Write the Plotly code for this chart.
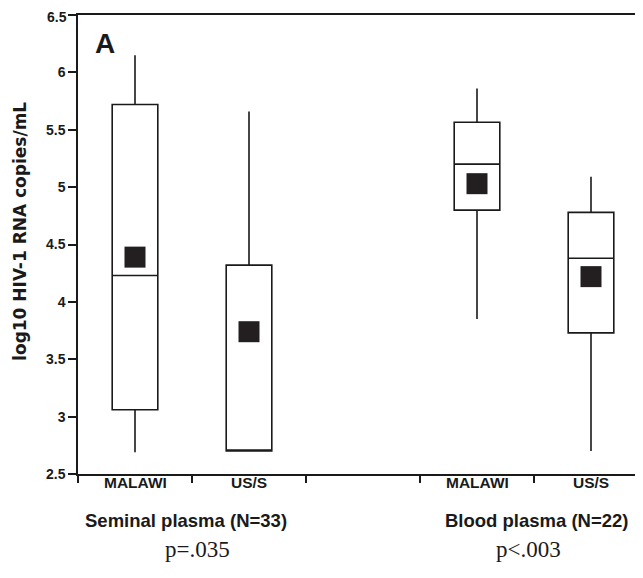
import plotly.graph_objects as go

groups = ["Seminal plasma (N=33)", "Blood plasma (N=22)"]
p_values = ["p=.035", "p<.003"]
categories = ["MALAWI", "US/S", "MALAWI", "US/S"]
positions = [0.5, 1.5, 3.5, 4.5]
group_centers = [0.95, 4.03]
p_centers = [1.05, 3.95]

whisker_low = [2.69, 2.70, 3.85, 2.70]
q1 = [3.06, 2.70, 4.80, 3.73]
median = [4.23, 2.70, 5.20, 4.38]
q3 = [5.72, 4.32, 5.565, 4.78]
whisker_high = [6.15, 5.66, 5.86, 5.09]
means = [4.39, 3.74, 5.03, 4.22]

y_ticks = [2.5, 3, 3.5, 4, 4.5, 5, 5.5, 6, 6.5]
y_tick_labels = ["2.5", "3", "3.5", "4", "4.5", "5", "5.5", "6", "6.5"]
y_title = "log10 HIV-1 RNA copies/mL"

# page has an 8px body margin; compensate so plot sits at page (78, 15)
W, H = 643, 578
ML, MT, MR = 70, 7, 8
plot_h = 459
MB = H - MT - plot_h
unit_px = 114.0
x_max = (W - ML - MR) / unit_px

fig = go.Figure()
for i in range(len(positions)):
    fig.add_trace(go.Box(
        x=[positions[i]], q1=[q1[i]], median=[median[i]], q3=[q3[i]],
        lowerfence=[whisker_low[i]], upperfence=[whisker_high[i]],
        width=0.4, whiskerwidth=0,
        fillcolor="white", line=dict(color="#1a1a1a", width=1.6),
        showlegend=False, hoverinfo="skip",
    ))

fig.add_trace(go.Scatter(
    x=positions, y=means, mode="markers",
    marker=dict(symbol="square", size=21, color="#231f20"),
    showlegend=False, hoverinfo="skip",
))

fig.update_layout(
    width=W, height=H,
    margin=dict(l=ML, r=MR, t=MT, b=MB),
    plot_bgcolor="white", paper_bgcolor="white",
    font=dict(family="Liberation Sans", color="#1a1a1a"),
)
fig.update_xaxes(
    range=[0, x_max], showgrid=False, zeroline=False, automargin=False,
    showline=True, linecolor="#1a1a1a", linewidth=1.5, mirror=True,
    tickvals=[0, 1, 2, 3, 4, 5], ticks="outside", ticklen=7, tickwidth=1.5,
    tickcolor="#1a1a1a", showticklabels=False,
)
tick_font = dict(size=14, weight="bold", family="Liberation Sans")
# top label sits at the figure edge where plotly drops it; draw it as annotation
axis_texts = y_tick_labels[:-1] + [""]
fig.update_yaxes(
    range=[2.5, 6.5], showgrid=False, zeroline=False, automargin=False,
    showline=True, linecolor="#1a1a1a", linewidth=1.5, mirror=False,
    tickvals=y_ticks, ticktext=axis_texts, ticks="outside", ticklen=8,
    tickwidth=1.5, tickcolor="#1a1a1a", tickfont=tick_font,
)
fig.add_annotation(x=0, xref="paper", y=y_ticks[-1], yref="y", xanchor="right",
                   xshift=-10, yshift=-2, borderpad=0, text=y_tick_labels[-1],
                   showarrow=False, font=tick_font)

fig.add_annotation(x=0, xref="paper", y=4.61, yref="y", xshift=-58,
                   xanchor="center", yanchor="middle",
                   text=y_title, textangle=-90, showarrow=False,
                   font=dict(size=17, weight="bold", family="DejaVu Sans"))

for pos, cat in zip(positions, categories):
    fig.add_annotation(x=pos, y=0, yref="paper", yshift=-19, text=cat,
                       showarrow=False,
                       font=dict(size=15.5, weight="bold", family="Liberation Sans"))
for c, g in zip(group_centers, groups):
    fig.add_annotation(x=c, y=0, yref="paper", yshift=-59, text=g,
                       showarrow=False,
                       font=dict(size=18.5, weight="bold", family="Liberation Sans"))
for c, p in zip(p_centers, p_values):
    fig.add_annotation(x=c, y=0, yref="paper", yshift=-90, text=p,
                       showarrow=False,
                       font=dict(size=23, family="Liberation Serif"))

fig.add_annotation(x=0.13, y=6.25, text="A", showarrow=False, xanchor="left",
                   font=dict(size=28, weight="bold", family="Liberation Sans"))

fig.write_html("out.html")
